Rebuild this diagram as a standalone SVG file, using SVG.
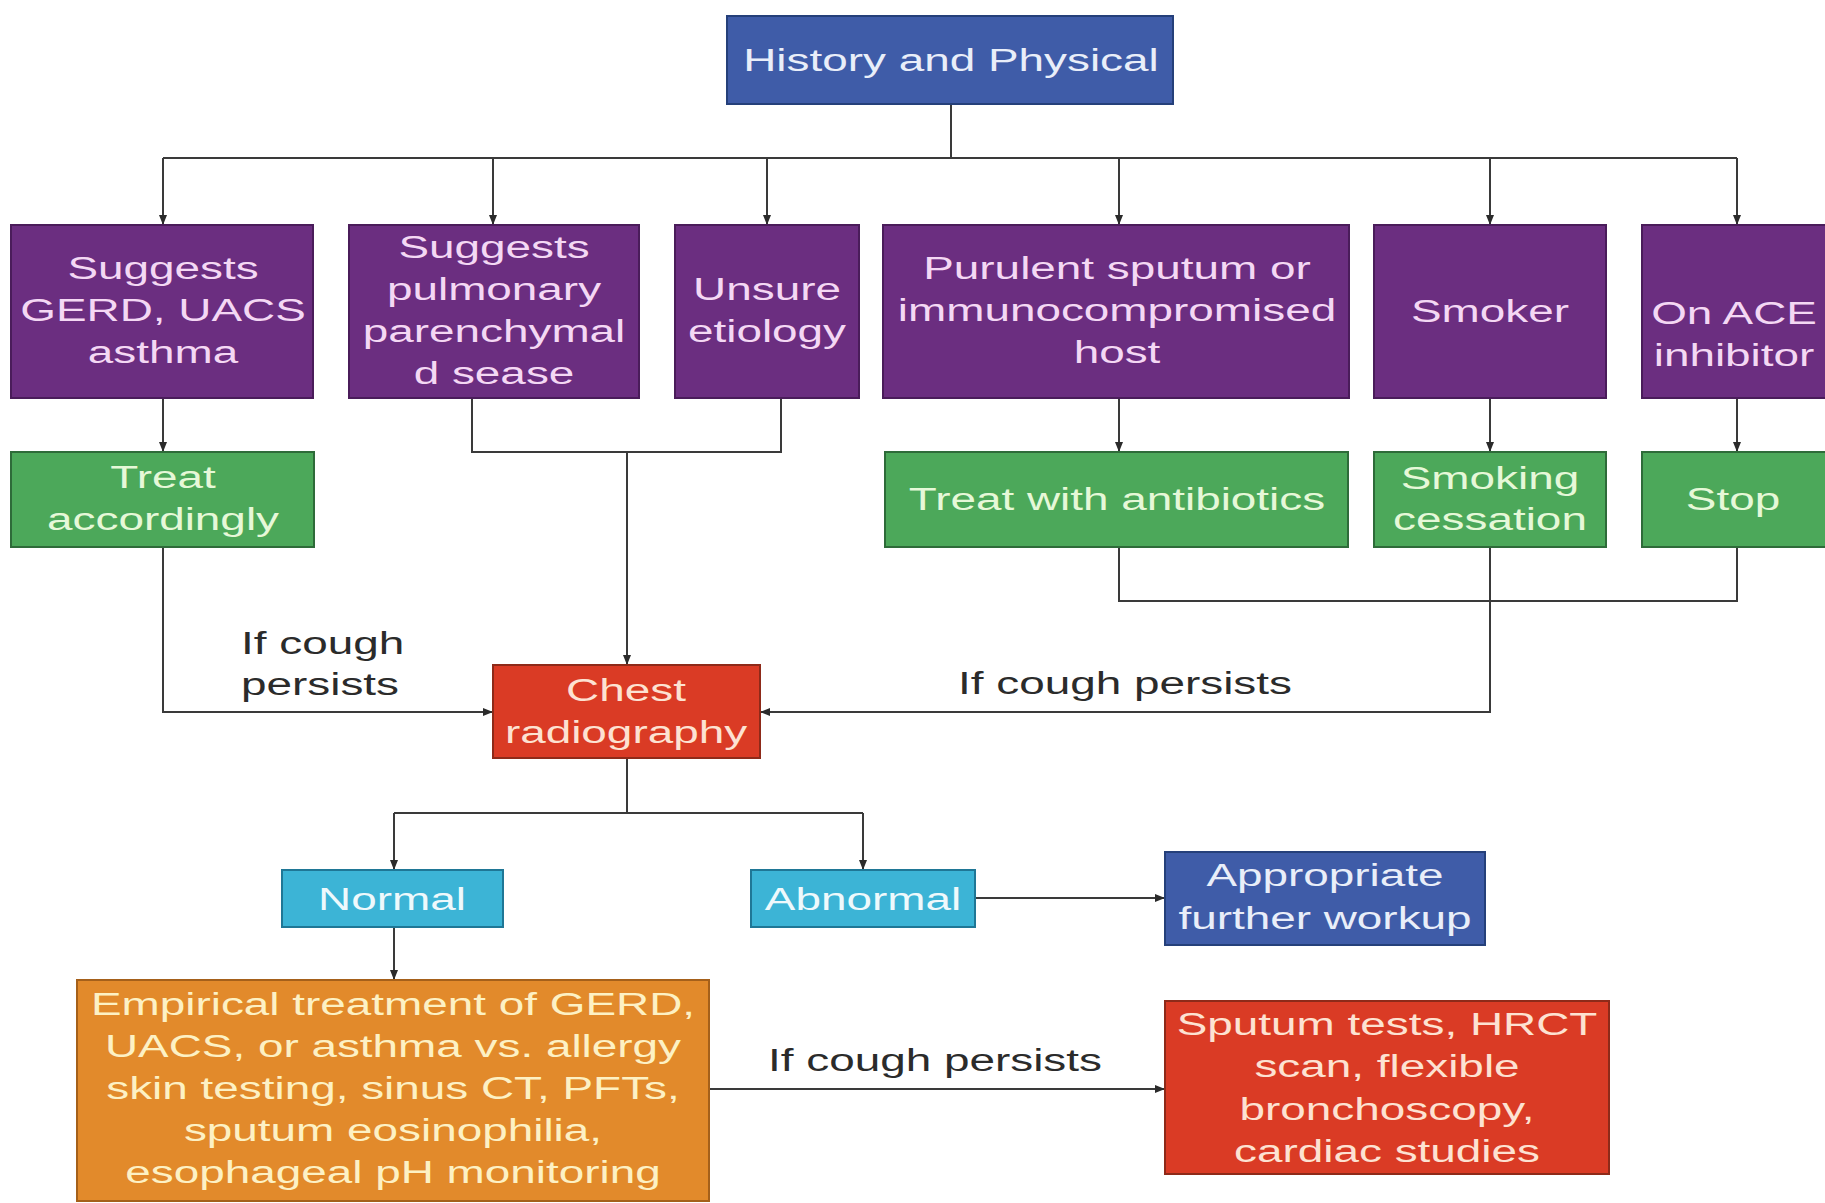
<svg xmlns="http://www.w3.org/2000/svg" width="1825" height="1203" viewBox="0 0 1825 1203">
<defs>
<style>
text{font-family:"Liberation Sans",Arial,sans-serif;font-size:31px;text-anchor:middle}
.lbl{fill:#2b2b2b;text-anchor:start}
.blue rect{fill:#3f5ca8;stroke:#25407a;stroke-width:2}
.blue text{fill:#e9eef9}
.pur rect{fill:#6b2e80;stroke:#4a1c5a;stroke-width:2}
.pur text{fill:#f4d8f4}
.grn rect{fill:#4ca85a;stroke:#2e6b39;stroke-width:2}
.grn text{fill:#e6f8d8}
.red rect{fill:#da3b25;stroke:#8e2a19;stroke-width:2}
.red text{fill:#fde2d2}
.cyan rect{fill:#3cb4d6;stroke:#1f7796;stroke-width:2}
.cyan text{fill:#eef9fc}
.org rect{fill:#e28a2b;stroke:#a5601a;stroke-width:2}
.org text{fill:#fdf1c4}
.c path{fill:none;stroke:#3a3a3a;stroke-width:2}
</style>
<marker id="ah" viewBox="0 0 10 10" refX="10" refY="5" markerWidth="10" markerHeight="10" markerUnits="userSpaceOnUse" orient="auto">
<path d="M0,1 L10,5 L0,9 Z" fill="#2b2b2b"/>
</marker>
</defs>
<rect width="1825" height="1203" fill="#ffffff"/>

<g id="connectors" class="c">
<path d="M951,104 V158"/>
<path d="M163,158 H1737"/>
<path d="M163,158 V225" marker-end="url(#ah)"/>
<path d="M493,158 V225" marker-end="url(#ah)"/>
<path d="M767,158 V225" marker-end="url(#ah)"/>
<path d="M1119,158 V225" marker-end="url(#ah)"/>
<path d="M1490,158 V225" marker-end="url(#ah)"/>
<path d="M1737,158 V225" marker-end="url(#ah)"/>
<path d="M163,398 V452" marker-end="url(#ah)"/>
<path d="M1119,398 V452" marker-end="url(#ah)"/>
<path d="M1490,398 V452" marker-end="url(#ah)"/>
<path d="M1737,398 V452" marker-end="url(#ah)"/>
<path d="M472,398 V452 H781 V398"/>
<path d="M627,452 V665" marker-end="url(#ah)"/>
<path d="M163,547 V712 H493" marker-end="url(#ah)"/>
<path d="M1119,547 V601 H1737 V547"/>
<path d="M1490,547 V712 H760" marker-end="url(#ah)"/>
<path d="M627,758 V813"/>
<path d="M394,813 H863"/>
<path d="M394,813 V870" marker-end="url(#ah)"/>
<path d="M863,813 V870" marker-end="url(#ah)"/>
<path d="M394,927 V980" marker-end="url(#ah)"/>
<path d="M975,898 H1165" marker-end="url(#ah)"/>
<path d="M709,1089 H1165" marker-end="url(#ah)"/>
</g>

<g id="labels">
<text class="lbl" transform="translate(241 0) scale(1.48 1)"><tspan x="0" y="654">If cough</tspan><tspan x="0" y="695">persists</tspan></text>
<text class="lbl" transform="translate(958 694) scale(1.48 1)">If cough persists</text>
<text class="lbl" transform="translate(768 1071) scale(1.48 1)">If cough persists</text>
</g>

<g id="history" class="blue">
<rect x="727" y="16" width="446" height="88"/>
<text transform="translate(951 71) scale(1.48 1)">History and Physical</text>
</g>

<g id="gerd" class="pur">
<rect x="11" y="225" width="302" height="173"/>
<text transform="translate(163 0) scale(1.48 1)"><tspan x="0" y="279">Suggests</tspan><tspan x="0" y="321">GERD, UACS</tspan><tspan x="0" y="363">asthma</tspan></text>
</g>
<g id="pulmonary" class="pur">
<rect x="349" y="225" width="290" height="173"/>
<text transform="translate(494 0) scale(1.48 1)"><tspan x="0" y="258">Suggests</tspan><tspan x="0" y="300">pulmonary</tspan><tspan x="0" y="342">parenchymal</tspan><tspan x="0" y="384">d sease</tspan></text>
</g>
<g id="unsure" class="pur">
<rect x="675" y="225" width="184" height="173"/>
<text transform="translate(767 0) scale(1.48 1)"><tspan x="0" y="300">Unsure</tspan><tspan x="0" y="342">etiology</tspan></text>
</g>
<g id="purulent" class="pur">
<rect x="883" y="225" width="466" height="173"/>
<text transform="translate(1117 0) scale(1.48 1)"><tspan x="0" y="279">Purulent sputum or</tspan><tspan x="0" y="321">immunocompromised</tspan><tspan x="0" y="363">host</tspan></text>
</g>
<g id="smoker" class="pur">
<rect x="1374" y="225" width="232" height="173"/>
<text transform="translate(1490 322) scale(1.48 1)">Smoker</text>
</g>
<g id="ace" class="pur">
<rect x="1642" y="225" width="190" height="173"/>
<text transform="translate(1734 0) scale(1.48 1)"><tspan x="0" y="324">On ACE</tspan><tspan x="0" y="366">inhibitor</tspan></text>
</g>

<g id="treat" class="grn">
<rect x="11" y="452" width="303" height="95"/>
<text transform="translate(163 0) scale(1.48 1)"><tspan x="0" y="488">Treat</tspan><tspan x="0" y="530">accordingly</tspan></text>
</g>
<g id="antibiotics" class="grn">
<rect x="885" y="452" width="463" height="95"/>
<text transform="translate(1117 510) scale(1.48 1)">Treat with antibiotics</text>
</g>
<g id="cessation" class="grn">
<rect x="1374" y="452" width="232" height="95"/>
<text transform="translate(1490 0) scale(1.48 1)"><tspan x="0" y="489">Smoking</tspan><tspan x="0" y="530">cessation</tspan></text>
</g>
<g id="stop" class="grn">
<rect x="1642" y="452" width="190" height="95"/>
<text transform="translate(1733 510) scale(1.48 1)">Stop</text>
</g>

<g id="chest" class="red">
<rect x="493" y="665" width="267" height="93"/>
<text transform="translate(626 0) scale(1.48 1)"><tspan x="0" y="701">Chest</tspan><tspan x="0" y="743">radiography</tspan></text>
</g>

<g id="normal" class="cyan">
<rect x="282" y="870" width="221" height="57"/>
<text transform="translate(392 910) scale(1.48 1)">Normal</text>
</g>
<g id="abnormal" class="cyan">
<rect x="751" y="870" width="224" height="57"/>
<text transform="translate(863 910) scale(1.48 1)">Abnormal</text>
</g>

<g id="workup" class="blue">
<rect x="1165" y="852" width="320" height="93"/>
<text transform="translate(1325 0) scale(1.48 1)"><tspan x="0" y="886">Appropriate</tspan><tspan x="0" y="929">further workup</tspan></text>
</g>

<g id="empirical" class="org">
<rect x="77" y="980" width="632" height="221"/>
<text transform="translate(393 0) scale(1.48 1)"><tspan x="0" y="1015">Empirical treatment of GERD,</tspan><tspan x="0" y="1057">UACS, or asthma vs. allergy</tspan><tspan x="0" y="1099">skin testing, sinus CT, PFTs,</tspan><tspan x="0" y="1141">sputum eosinophilia,</tspan><tspan x="0" y="1183">esophageal pH monitoring</tspan></text>
</g>

<g id="sputum" class="red">
<rect x="1165" y="1001" width="444" height="173"/>
<text transform="translate(1387 0) scale(1.48 1)"><tspan x="0" y="1035">Sputum tests, HRCT</tspan><tspan x="0" y="1077">scan, flexible</tspan><tspan x="0" y="1120">bronchoscopy,</tspan><tspan x="0" y="1162">cardiac studies</tspan></text>
</g>
</svg>
